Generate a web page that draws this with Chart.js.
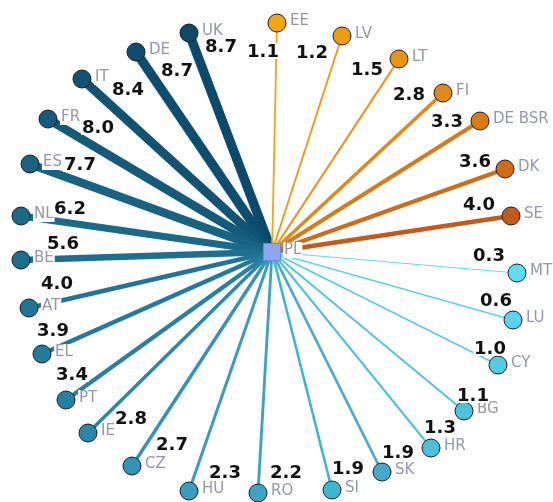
<!DOCTYPE html>
<html>
<head>
<meta charset="utf-8">
<script src="https://cdn.jsdelivr.net/npm/chart.js@4/dist/chart.umd.min.js"></script>
<style>
  html, body { margin: 0; padding: 0; background: #ffffff; }
  #wrap { width: 553px; height: 502px; }
</style>
</head>
<body>
<div id="wrap"><canvas id="c" width="553" height="502"></canvas></div>
<script>
// ---------------- DATA ----------------
const hub = 'PL';
const countries = ['EE','LV','LT','FI','DE BSR','DK','SE','MT','LU','CY','BG','HR','SK','SI',
                   'RO','HU','CZ','IE','PT','EL','AT','BE','NL','ES','FR','IT','DE','UK'];
const values    = [1.1, 1.2, 1.5, 2.8, 3.3, 3.6, 4.0, 0.3, 0.6, 1.0, 1.1, 1.3, 1.9, 1.9,
                   2.2, 2.3, 2.7, 2.8, 3.4, 3.9, 4.0, 5.6, 6.2, 7.7, 8.0, 8.4, 8.7, 8.7];
// network layout (hub at origin)
const layoutX = [5, 70, 127, 171, 208, 233, 239, 245, 241, 226, 192, 159, 110, 60,
                 -14, -83, -140, -184, -206, -230, -243, -251, -251, -242, -224, -190, -136, -83];
const layoutY = [229, 216, 193, 159, 131, 83, 36, -21, -68, -113, -159, -196, -220, -238,
                 -241, -239, -214, -181, -148, -102, -56, -8, 36, 88, 133, 173, 200, 219];

// ---------------- STYLE ----------------
const nodeColors = ['#f5a30f','#ef9b12','#ea9414','#e28814','#d97b15','#cf6c16','#c55917',
                    '#5fdcf5','#58d3ec','#52cbe3','#4cc3dc','#4bbfdb','#44a9cb','#3ab8cf',
                    '#3ba3c6','#389cbe','#3193b5','#2888a9','#2581a2','#217b9b','#1f7595',
                    '#1c6f8f','#1a6a8a','#166383','#135b7b','#105474','#0d4e70','#0b4a6b'];
// value-label placement relative to node (pixels)
const valueLabelShift = [[-14,28],[-30,16],[-32,10],[-34,1],[-33,0],[-30,-8],[-32,-12],
                         [-28,-18],[-17,-20],[-8,-17],[9,-16],[9,-21],[16,-20],[16,-22],
                         [28,-21],[36,-19],[40,-22],[43,-15],[6,-26],[11,-24],[28,-25],
                         [42,-17],[49,-8],[50,0],[50,8],[46,10],[41,18],[32,13]];

const hubDataset = {
  label: hub,
  data: [{x: 0, y: 0}],
  pointStyle: 'rect',
  pointRadius: 12,
  pointBackgroundColor: '#8fa5ef',
  pointBorderColor: '#6f88d8',
  pointBorderWidth: 1,
  showLine: false,
  clip: false
};

const nodeDataset = {
  label: 'nodes',
  data: countries.map((c, i) => ({x: layoutX[i], y: layoutY[i]})),
  pointRadius: 9,
  pointBackgroundColor: nodeColors,
  pointBorderColor: '#1c1c1c',
  pointBorderWidth: 1,
  showLine: false,
  clip: false
};

const edgeDatasets = countries.map((c, i) => ({
  label: hub + '-' + c,
  data: [{x: 0, y: 0}, {x: layoutX[i], y: layoutY[i]}],
  showLine: true,
  borderColor: nodeColors[i],
  backgroundColor: nodeColors[i],
  borderWidth: 0.7 + values[i],
  borderCapStyle: 'butt',
  pointRadius: 0,
  clip: false
}));

// Chart.js draws the first dataset on top
const HUB_IDX = 0;
const NODE_IDX = 1;

const labelPlugin = {
  id: 'netLabels',
  afterDatasetsDraw(chart) {
    const ctx = chart.ctx;
    const nodes = chart.getDatasetMeta(NODE_IDX).data;
    const hubEl = chart.getDatasetMeta(HUB_IDX).data[0];
    ctx.save();
    // country labels
    ctx.font = '15px "DejaVu Sans"';
    ctx.textBaseline = 'middle';
    ctx.textAlign = 'left';
    const drawName = (txt, x, y) => {
      const w = ctx.measureText(txt).width;
      ctx.fillStyle = '#ffffff';
      ctx.fillRect(x - 1, y - 8, w + 2, 16);
      ctx.fillStyle = '#9397a6';
      ctx.fillText(txt, x, y);
    };
    countries.forEach((c, i) => drawName(c, nodes[i].x + 13, nodes[i].y - 2));
    drawName(hub, hubEl.x + 12, hubEl.y - 2);
    // value labels
    ctx.font = 'bold 18px "DejaVu Sans"';
    ctx.textAlign = 'center';
    values.forEach((v, i) => {
      const txt = v.toFixed(1);
      const x = nodes[i].x + valueLabelShift[i][0];
      const y = nodes[i].y + valueLabelShift[i][1];
      const w = ctx.measureText(txt).width;
      ctx.fillStyle = '#ffffff';
      ctx.fillRect(x - w / 2 - 1, y - 8, w + 2, 16);
      ctx.fillStyle = '#111111';
      ctx.fillText(txt, x, y + 1);
    });
    ctx.restore();
  }
};

new Chart(document.getElementById('c'), {
  type: 'scatter',
  data: { datasets: [hubDataset, nodeDataset, ...edgeDatasets] },
  options: {
    responsive: false,
    animation: false,
    events: [],
    devicePixelRatio: 1,
    layout: { padding: 0, autoPadding: false },
    plugins: { legend: { display: false }, tooltip: { enabled: false } },
    scales: {
      x: { type: 'linear', min: -272, max: 281, display: false },
      y: { type: 'linear', min: -250, max: 252, display: false }
    }
  },
  plugins: [labelPlugin]
});
</script>
</body>
</html>
